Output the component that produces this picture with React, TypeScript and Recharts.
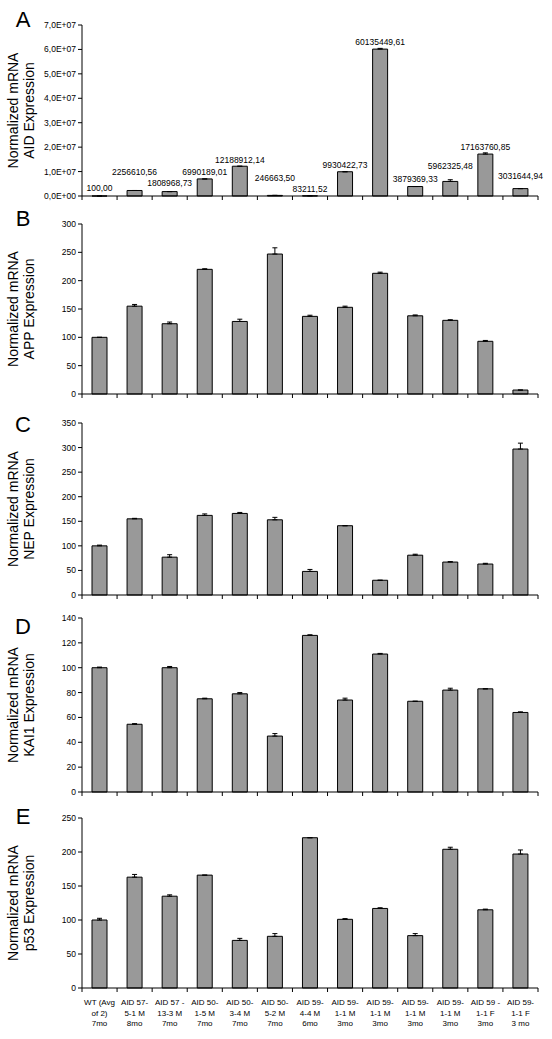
import React from 'react';
import { BarChart, Bar, XAxis, YAxis, ErrorBar, LabelList, Label } from 'recharts';

// sample labels along the x axis (three lines each, as printed under panel E)
const CATEGORIES: string[][] = [
  ['WT (Avg', 'of 2)', '7mo'],
  ['AID 57-', '5-1 M', '8mo'],
  ['AID 57 -', '13-3 M', '7mo'],
  ['AID 50-', '1-5 M', '7mo'],
  ['AID 50-', '3-4 M', '7mo'],
  ['AID 50-', '5-2 M', '7mo'],
  ['AID 59-', '4-4 M', '6mo'],
  ['AID 59-', '1-1 M', '3mo'],
  ['AID 59-', '1-1 M', '3mo'],
  ['AID 59-', '1-1 M', '3mo'],
  ['AID 59-', '1-1 M', '3mo'],
  ['AID 59 -', '1-1 F', '3mo'],
  ['AID 59-', '1-1 F', '3 mo'],
];

const AID_VALUES = [
  100.0, 2256610.56, 1808968.73, 6990189.01, 12188912.14, 246663.5, 83211.52,
  9930422.73, 60135449.61, 3879369.33, 5962325.48, 17163760.85, 3031644.94,
];
const AID_ERRORS = [0, 0, 0, 0, 0, 0, 0, 0, 300000, 0, 700000, 500000, 0];
const AID_TICKS = [0, 1e7, 2e7, 3e7, 4e7, 5e7, 6e7, 7e7];

const APP_VALUES = [100, 155, 124, 220, 128, 247, 137, 153, 213, 138, 130, 93, 7];
const APP_ERRORS = [0, 3, 3, 1, 4, 11, 2, 2, 2, 1.5, 1, 1.5, 0];
const APP_TICKS = [0, 50, 100, 150, 200, 250, 300];

const NEP_VALUES = [100, 155, 77, 162, 166, 153, 48, 141, 30, 81, 67, 63, 297];
const NEP_ERRORS = [1.5, 1, 5, 3, 2, 5, 4, 0, 0, 2, 1, 1.5, 12];
const NEP_TICKS = [0, 50, 100, 150, 200, 250, 300, 350];

const KAI1_VALUES = [100, 54.5, 100, 75, 79, 45, 126, 74, 111, 73, 82, 83, 64];
const KAI1_ERRORS = [0.5, 0.5, 1, 0.5, 1, 2, 0.5, 1.5, 0.5, 0, 1.5, 0, 0.5];
const KAI1_TICKS = [0, 20, 40, 60, 80, 100, 120, 140];

const P53_VALUES = [100, 163, 135, 166, 70, 76, 221, 101, 117, 77, 204, 115, 197];
const P53_ERRORS = [2.5, 4, 2, 0, 3, 4, 0, 1, 1, 3, 3, 1, 6];
const P53_TICKS = [0, 50, 100, 150, 200, 250];

// extra lift of each value label above its bar in panel A (they are staggered)
const AID_LABEL_GAP = [8, 18, 9, 7, 6, 17, 7, 7, 7, 7.5, 15, 7, 13];

const FONT = '"Liberation Sans", Arial, sans-serif';
const CHART_W = 552;
const AXIS_LEFT = 82;
const AXIS_RIGHT = 538;
const MARGIN_TOP = 12;
const BAND = (AXIS_RIGHT - AXIS_LEFT) / CATEGORIES.length;
const BAR_FILL = '#999999';

// plot top / zero line / letter baseline on the page
const PANEL_LAYOUT = [
  { top: 25, bottom: 196, letterY: 27 },
  { top: 224, bottom: 394, letterY: 226 },
  { top: 423, bottom: 595, letterY: 432 },
  { top: 618, bottom: 792, letterY: 634 },
  { top: 818, bottom: 988, letterY: 824 },
];

const formatSci = (v: number) => {
  if (v === 0) return '0,0E+00';
  return (v / 1e7).toFixed(1).replace('.', ',') + 'E+07';
};

const formatLabel = (v: number) => v.toFixed(2).replace('.', ',');

interface PanelProps {
  letter: string;
  gene: string;
  values: number[];
  errors: number[];
  ticks: number[];
  layout: { top: number; bottom: number; letterY: number };
  tickFormatter?: (v: number) => string;
  showCategories?: boolean;
  dataLabels?: boolean;
}

const Panel = ({ gene, values, errors, ticks, layout, tickFormatter, showCategories, dataLabels }: PanelProps) => {
  const plotH = layout.bottom - layout.top;
  const xAxisH = showCategories ? 50 : 8;
  const height = MARGIN_TOP + plotH + xAxisH;
  const axisY = MARGIN_TOP + plotH;

  const data = CATEGORIES.map((lines, i) => ({
    name: lines.join(' '),
    value: values[i],
    err: [0, errors[i]],
  }));

  const renderTick = (props: any) => {
    const { x, index } = props;
    const left = x - BAND / 2;
    const lines = CATEGORIES[index] || [];
    return (
      <g>
        <line x1={left} x2={left} y1={axisY} y2={axisY + 4} stroke="#000" />
        {index === CATEGORIES.length - 1 && (
          <line x1={x + BAND / 2} x2={x + BAND / 2} y1={axisY} y2={axisY + 4} stroke="#000" />
        )}
        {showCategories && (
          <text textAnchor="middle" fontSize={8} fontFamily={FONT} fill="#000">
            {lines.map((l, k) => (
              <tspan key={k} x={x} y={axisY + 17 + k * 10.5}>
                {l}
              </tspan>
            ))}
          </text>
        )}
      </g>
    );
  };

  const renderTitle = () => (
    <text
      transform={`translate(18, ${MARGIN_TOP + plotH / 2}) rotate(-90)`}
      textAnchor="middle"
      fontSize={14}
      fontFamily={FONT}
      fill="#000"
    >
      <tspan x={0} y={0}>Normalized mRNA</tspan>
      <tspan x={0} y={16}>{gene} Expression</tspan>
    </text>
  );

  const renderValueLabel = (props: any) => {
    const { x, y, width, value, index } = props;
    const gap = AID_LABEL_GAP[index] ?? 7;
    return (
      <text
        x={x + width / 2}
        y={y - gap + 3}
        textAnchor="middle"
        fontSize={8.5}
        fontFamily={FONT}
        fill="#000"
      >
        {formatLabel(value)}
      </text>
    );
  };

  return (
    <div style={{ position: 'absolute', left: 0, top: layout.top - MARGIN_TOP }}>
      <BarChart
        width={CHART_W}
        height={height}
        data={data}
        margin={{ top: MARGIN_TOP, right: CHART_W - AXIS_RIGHT, bottom: 0, left: 0 }}
      >
        <XAxis
          dataKey="name"
          interval={0}
          height={xAxisH}
          axisLine={{ stroke: '#000' }}
          tickLine={false}
          tick={renderTick}
        />
        <YAxis
          type="number"
          width={AXIS_LEFT}
          domain={[0, ticks[ticks.length - 1]]}
          ticks={ticks}
          interval={0}
          tickFormatter={tickFormatter}
          tickSize={4}
          tickMargin={2}
          axisLine={{ stroke: '#000' }}
          tickLine={{ stroke: '#000' }}
          tick={{ fontSize: 8.5, fill: '#000', fontFamily: FONT }}
          label={<Label content={renderTitle} />}
        />
        <Bar
          dataKey="value"
          fill={BAR_FILL}
          stroke="#000"
          strokeWidth={1}
          barSize={15}
          isAnimationActive={false}
        >
          <ErrorBar dataKey="err" width={2.5} stroke="#000" strokeWidth={1} direction="y" isAnimationActive={false} />
          {dataLabels && <LabelList dataKey="value" content={renderValueLabel} />}
        </Bar>
      </BarChart>
    </div>
  );
};

export default function App() {
  const panels: PanelProps[] = [
    { letter: 'A', gene: 'AID', values: AID_VALUES, errors: AID_ERRORS, ticks: AID_TICKS, layout: PANEL_LAYOUT[0], tickFormatter: formatSci, dataLabels: true },
    { letter: 'B', gene: 'APP', values: APP_VALUES, errors: APP_ERRORS, ticks: APP_TICKS, layout: PANEL_LAYOUT[1] },
    { letter: 'C', gene: 'NEP', values: NEP_VALUES, errors: NEP_ERRORS, ticks: NEP_TICKS, layout: PANEL_LAYOUT[2] },
    { letter: 'D', gene: 'KAI1', values: KAI1_VALUES, errors: KAI1_ERRORS, ticks: KAI1_TICKS, layout: PANEL_LAYOUT[3] },
    { letter: 'E', gene: 'p53', values: P53_VALUES, errors: P53_ERRORS, ticks: P53_TICKS, layout: PANEL_LAYOUT[4], showCategories: true },
  ];

  return (
    <div style={{ position: 'absolute', left: 0, top: 0, width: 552, height: 1039, background: '#fff', overflow: 'hidden' }}>
      {panels.map((p) => (
        <Panel key={p.letter} {...p} />
      ))}
      <svg width={552} height={1039} style={{ position: 'absolute', left: 0, top: 0, pointerEvents: 'none' }}>
        {panels.map((p) => (
          <text key={p.letter} x={23} y={p.layout.letterY} textAnchor="middle" fontSize={22} fontFamily={FONT} fill="#000">
            {p.letter}
          </text>
        ))}
      </svg>
    </div>
  );
}
